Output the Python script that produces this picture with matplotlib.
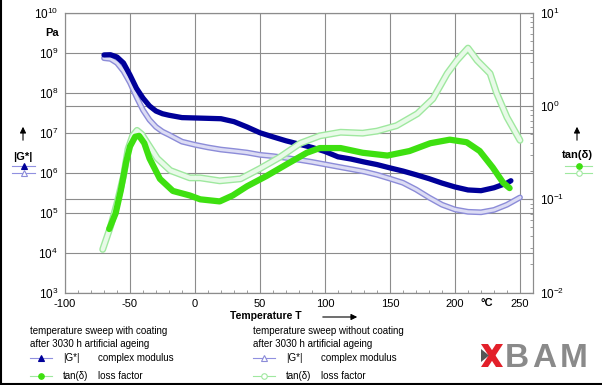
import matplotlib
matplotlib.use('Agg')
import matplotlib.pyplot as plt
import matplotlib.transforms as mtransforms
from matplotlib.lines import Line2D
from matplotlib.patches import Polygon

plt.rcParams['font.family'] = ['Liberation Sans', 'DejaVu Sans']
plt.rcParams['mathtext.default'] = 'regular'
plt.rcParams['axes.unicode_minus'] = False

# |G*| complex modulus, with coating (Pa)
temp_g_coat = [-70, -65, -60, -55, -50, -45, -40, -35, -30, -25, -20, -10, 0, 10, 20, 30,
               40, 50, 60, 70, 80, 90, 100, 110, 120, 130, 140, 150, 160, 170, 180, 190,
               200, 210, 220, 230, 240, 243]
g_coat = [8.9e8, 9.0e8, 7.9e8, 5.6e8, 2.8e8, 1.3e8, 7.4e7, 4.7e7, 3.5e7, 3.0e7, 2.75e7, 2.4e7,
          2.35e7, 2.3e7, 2.25e7, 1.9e7, 1.4e7, 1.0e7, 7.9e6, 6.3e6, 5.2e6, 4.3e6, 3.4e6, 2.5e6,
          2.2e6, 1.86e6, 1.6e6, 1.32e6, 1.1e6, 8.9e5, 7.1e5, 5.5e5, 4.4e5, 3.7e5, 3.55e5, 4.2e5,
          5.5e5, 6.3e5]

# |G*| complex modulus, without coating (Pa)
temp_g_plain = [-70, -65, -60, -55, -50, -45, -40, -35, -30, -25, -20, -10, 0, 10, 20, 30,
                40, 50, 60, 70, 80, 90, 100, 110, 120, 130, 140, 150, 160, 170, 180, 190,
                200, 210, 220, 230, 240, 250]
g_plain = [7.4e8, 7.1e8, 5.6e8, 3.5e8, 1.8e8, 7.9e7, 3.7e7, 2.1e7, 1.4e7, 1.07e7, 8.9e6, 6.0e6,
           5.0e6, 4.3e6, 3.8e6, 3.5e6, 3.2e6, 2.8e6, 2.6e6, 2.35e6, 2.1e6, 1.86e6, 1.62e6,
           1.41e6, 1.23e6, 1.07e6, 8.9e5, 7.1e5, 5.6e5, 3.8e5, 2.4e5, 1.58e5, 1.2e5, 1.05e5,
           1.02e5, 1.17e5, 1.58e5, 2.4e5]

# tan(delta) loss factor, with coating
temp_tan_coat = [-66, -61, -57, -53, -50, -46, -43, -39, -35, -27, -17, -4, 4, 19, 29, 40,
                 55, 71, 86, 96, 112, 129, 148, 165, 181, 196, 209, 219, 229, 237, 242]
tan_coat = [0.048, 0.071, 0.126, 0.25, 0.37, 0.47, 0.48, 0.40, 0.275, 0.166, 0.123, 0.11,
            0.1, 0.095, 0.11, 0.138, 0.178, 0.24, 0.316, 0.355, 0.355, 0.316, 0.295, 0.33,
            0.40, 0.437, 0.41, 0.33, 0.22, 0.151, 0.132]

# tan(delta) loss factor, without coating
temp_tan_plain = [-71, -65, -60, -55, -51.5, -48, -44.6, -41, -37, -29, -19, -4, 4, 19, 35,
                  50, 65, 81, 96, 112, 129, 140, 155, 171, 183, 194, 201.5, 210, 217, 227,
                  232, 240, 250]
tan_plain = [0.029, 0.051, 0.091, 0.178, 0.347, 0.48, 0.55, 0.5, 0.41, 0.275, 0.204, 0.17,
             0.17, 0.158, 0.166, 0.214, 0.282, 0.40, 0.48, 0.525, 0.513, 0.54, 0.617, 0.83,
             1.2, 2.24, 3.1, 4.2, 3.1, 2.24, 1.38, 0.76, 0.43]

x_ticks = [-100, -50, 0, 50, 100, 150, 200, 250]

W, H = 602, 385
grid_col = '#8c8c8c'


def fx(px):
    return px / W


def fy(py):
    return 1 - py / H


fig = plt.figure(figsize=(W / 100, H / 100), dpi=100)
ax = fig.add_axes([fx(65), fy(292.5), fx(533) - fx(65), fy(13) - fy(292.5)])
ax2 = ax.twinx()

ax.set_xlim(-100, 260)
ax.set_yscale('log')
ax.set_ylim(1e3, 1e10)
ax2.set_yscale('log')
ax2.set_ylim(1e-2, 1e1)

# grid: vertical + left decades on ax, right decades drawn into ax with blended transform
ax.set_xticks(x_ticks)
ax.grid(True, which='major', color=grid_col, lw=0.8)
ax.set_axisbelow(True)
blend = mtransforms.blended_transform_factory(ax.transAxes, ax2.transData)
for v in [1e-2, 1e-1, 1e0, 1e1]:
    ax.add_line(Line2D([0, 1], [v, v], transform=blend, color=grid_col, lw=0.8, zorder=0.5))

for s in list(ax.spines.values()) + list(ax2.spines.values()):
    s.set_color(grid_col)
    s.set_linewidth(0.8)

ax.set_xticks(range(-100, 261, 10), minor=True)
ax.tick_params(axis='x', which='major', length=0, pad=5, labelsize=8)
ax.tick_params(axis='x', which='minor', length=2, direction='in', color=grid_col)
ax.tick_params(axis='y', which='both', length=0, pad=5, labelsize=8.5)
ax.yaxis.set_minor_locator(matplotlib.ticker.NullLocator())
ax2.tick_params(axis='y', which='major', length=3, direction='in', color=grid_col, pad=5, labelsize=8.5)
ax2.tick_params(axis='y', which='minor', length=2, direction='in', color=grid_col, labelright=False)

# curves
line_kw = dict(solid_capstyle='round', solid_joinstyle='round')
ax.plot(temp_g_plain, g_plain, color='#8c8cd8', lw=4.2, zorder=2, **line_kw)
ax.plot(temp_g_plain, g_plain, color='#dcdcf4', lw=2.2, zorder=2, **line_kw)
ax.plot(temp_g_coat, g_coat, color='#000099', lw=3.8, zorder=3, **line_kw)

ax2.plot(temp_tan_plain, tan_plain, color='#9fe89f', lw=5.0, zorder=2, **line_kw)
ax2.plot(temp_tan_plain, tan_plain, color='#e8fae8', lw=3.0, zorder=2, **line_kw)
ax2.plot(temp_tan_coat, tan_coat, color='#3ee010', lw=4.5, zorder=3, **line_kw)

# axis captions
fig.text(fx(52), fy(33), 'Pa', fontsize=8, fontweight='bold', ha='center', va='center')
fig.text(fx(23), fy(157), '|G*|', fontsize=8, fontweight='bold', ha='center', va='center')
fig.text(fx(577), fy(155), 'tan(δ)', fontsize=8, fontweight='bold', ha='center', va='center')
fig.text(fx(266), fy(316), 'Temperature T', fontsize=7.5, fontweight='bold', ha='center', va='center')
fig.text(fx(487), fy(303), '°C', fontsize=8, fontweight='bold', ha='center', va='center')

arrow = dict(arrowstyle='-|>', color='black', lw=0.8, mutation_scale=9)
ax.annotate('', xy=(fx(23), fy(124)), xytext=(fx(23), fy(143)), xycoords='figure fraction', arrowprops=arrow)
ax.annotate('', xy=(fx(577), fy(124)), xytext=(fx(577), fy(143)), xycoords='figure fraction', arrowprops=arrow)
ax.annotate('', xy=(fx(360), fy(317)), xytext=(fx(320), fy(317)), xycoords='figure fraction', arrowprops=arrow)


def symbol(x0, x1, y, line_col, marker, mfc, mec, ms=4):
    fig.add_artist(Line2D([fx(x0), fx(x1)], [fy(y), fy(y)], transform=fig.transFigure,
                          color=line_col, lw=0.8))
    fig.add_artist(Line2D([fx((x0 + x1) / 2)], [fy(y)], transform=fig.transFigure,
                          marker=marker, ms=ms, mfc=mfc, mec=mec, mew=0.8, ls='none'))


# side symbols
symbol(12, 35, 166, '#9090e0', '^', '#000099', '#000099')
symbol(12, 35, 173, '#9090e0', '^', 'white', '#8c8cd8')
symbol(565, 592, 166, '#9fe89f', 'o', '#3ee010', '#3ee010')
symbol(565, 592, 173, '#9fe89f', 'o', 'white', '#9fe89f')

# bottom legend
for x0, title, marks in [
    (30, 'temperature sweep with coating\nafter 3030 h artificial ageing',
     [('#9090e0', '^', '#000099', '#000099'), ('#9fe89f', 'o', '#3ee010', '#3ee010')]),
    (253, 'temperature sweep without coating\nafter 3030 h artificial ageing',
     [('#9090e0', '^', 'white', '#8c8cd8'), ('#9fe89f', 'o', 'white', '#9fe89f')]),
]:
    fig.text(fx(x0), fy(337.5), title, fontsize=7, ha='left', va='center', linespacing=1.3)
    symbol(x0, x0 + 22, 358, *marks[0])
    symbol(x0, x0 + 22, 376, *marks[1])
    fig.text(fx(x0 + 33), fy(358), '|G*|', fontsize=7, ha='left', va='center')
    fig.text(fx(x0 + 68), fy(358), 'complex modulus', fontsize=7, ha='left', va='center')
    fig.text(fx(x0 + 33), fy(376), 'tan(δ)', fontsize=7, ha='left', va='center')
    fig.text(fx(x0 + 68), fy(376), 'loss factor', fontsize=7, ha='left', va='center')

# BAM logo
def poly(pts, col):
    fig.add_artist(Polygon([(fx(a), fy(b)) for a, b in pts], closed=True, transform=fig.transFigure,
                           facecolor=col, edgecolor='none'))


poly([(481, 344), (488, 344), (503, 367), (496, 367)], '#e3202a')
poly([(496, 344), (503, 344), (488, 367), (481, 367)], '#e3202a')
poly([(481, 349), (489, 355.5), (481, 362)], '#555555')
for letter, xc in [('B', 517), ('A', 544), ('M', 574)]:
    fig.text(fx(xc), fy(367), letter, fontsize=24, fontweight='bold', color='#8a8a8a',
             ha='center', va='baseline')

# frame edges
fig.add_artist(Line2D([0.0015, 0.0015], [0, 1], transform=fig.transFigure, color='black', lw=1.5))
fig.add_artist(Line2D([0, 1], [fy(383.5), fy(383.5)], transform=fig.transFigure, color='black', lw=1.5))

fig.savefig('out.png', dpi=100)
